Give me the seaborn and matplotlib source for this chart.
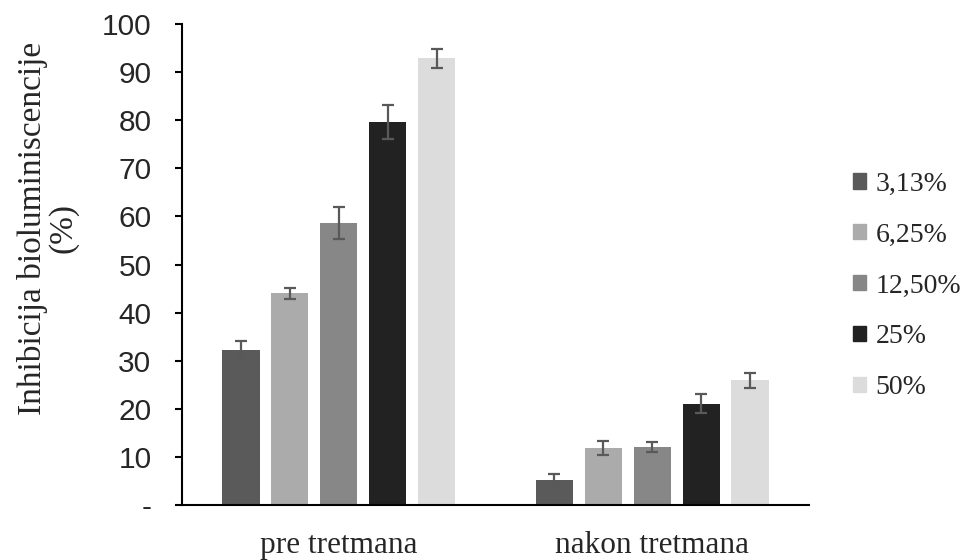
import numpy as np
import pandas as pd
import matplotlib
matplotlib.use("Agg")
import matplotlib.pyplot as plt
import seaborn as sns

# Treatment groups and concentration levels
groups = ["pre tretmana", "nakon tretmana"]
concentrations = ["3,13%", "6,25%", "12,50%", "25%", "50%"]

# Mean inhibition (%) per concentration, ordered as groups
inhib_3_13 = [32.3, 5.3]
inhib_6_25 = [44.0, 11.8]
inhib_12_50 = [58.6, 12.1]
inhib_25 = [79.6, 21.1]
inhib_50 = [92.9, 25.9]

# Standard deviations, same order
sd_3_13 = [1.7, 1.2]
sd_6_25 = [1.1, 1.5]
sd_12_50 = [3.3, 1.0]
sd_25 = [3.6, 2.0]
sd_50 = [2.0, 1.6]

y_ticks = [0, 10, 20, 30, 40, 50, 60, 70, 80, 90, 100]
y_tick_labels = ["-", "10", "20", "30", "40", "50", "60", "70", "80", "90", "100"]

colors = ["#5a5a5a", "#ababab", "#878787", "#222222", "#dcdcdc"]

means = [inhib_3_13, inhib_6_25, inhib_12_50, inhib_25, inhib_50]
sds = [sd_3_13, sd_6_25, sd_12_50, sd_25, sd_50]

df = pd.DataFrame(
    [(g, c, means[i][j]) for i, c in enumerate(concentrations) for j, g in enumerate(groups)],
    columns=["group", "conc", "value"],
)

sns.set_style("ticks")
plt.rcParams["font.family"] = ["Liberation Serif", "DejaVu Serif"]

fig = plt.figure(figsize=(9.64, 5.6), dpi=100)
ax = fig.add_axes([182 / 964, 1 - 505 / 560, (809 - 182) / 964, (505 - 24) / 560])

sns.barplot(
    data=df, x="group", y="value", hue="conc",
    order=groups, hue_order=concentrations, palette=colors,
    width=0.78, gap=0.24, errorbar=None, saturation=1, ax=ax,
    linewidth=0,
)

# Error bars at each bar's centre
for container, sd in zip(ax.containers, sds):
    xs = [p.get_x() + p.get_width() / 2 for p in container.patches]
    hs = [p.get_height() for p in container.patches]
    ax.errorbar(xs, hs, yerr=sd, fmt="none", ecolor="#595959",
                elinewidth=1.6, capsize=4.5, capthick=1.6, zorder=5)

ax.set_xlim(-0.5, 1.5)
ax.set_ylim(0, 100)
ax.set_yticks(y_ticks)
ax.set_yticklabels(y_tick_labels, fontfamily="Liberation Sans", fontsize=21.5)
ax.tick_params(axis="y", length=5, width=1.5, pad=17, color="black")
ax.tick_params(axis="x", length=0, pad=19, labelsize=22.5)
for lbl in ax.get_xticklabels():
    lbl.set_fontfamily("Liberation Serif")

ax.set_xlabel("")
ax.set_ylabel("Inhibicija bioluminiscencije\n(%)", fontsize=24,
              fontfamily="Liberation Serif", linespacing=1.0)
ax.yaxis.set_label_coords(-0.214, 0.576)
ax.yaxis.label.set_verticalalignment("center")

sns.despine(ax=ax)
for s in ["left", "bottom"]:
    ax.spines[s].set_linewidth(1.5)
    ax.spines[s].set_color("black")

ax.legend_.remove()
handles = [plt.Rectangle((0, 0), 1, 1, color=c) for c in colors]
fig.legend(handles, concentrations, loc="center left",
           bbox_to_anchor=(853 / 964, 1 - 286 / 560), frameon=False,
           prop={"family": "Liberation Serif", "size": 20},
           handlelength=0.47, handleheight=0.47, handletextpad=0.35,
           labelspacing=0.93, borderpad=0, borderaxespad=0)

fig.savefig("out.png", dpi=100)
